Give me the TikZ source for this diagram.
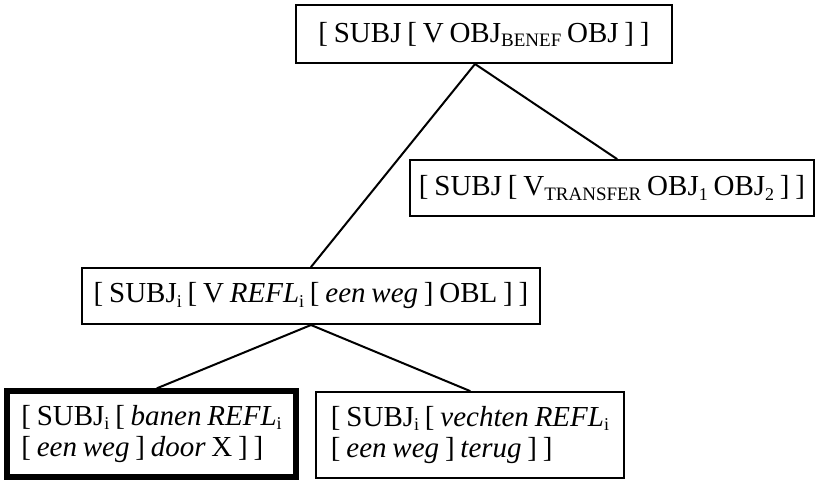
\documentclass[tikz,border=0pt]{standalone}
\usepackage{fontspec}
\setmainfont{Liberation Serif}
\newcommand\lo[1]{\raisebox{-0.14em}{\fontsize{18}{18}\selectfont #1}}
\newcommand\locap[1]{\raisebox{-0.14em}{\fontsize{19}{19}\selectfont #1}}
\newcommand\tightsp{\spaceskip=5.8pt plus 1pt minus 1pt\relax}
\newcommand\boxfont{\fontsize{29}{31}\selectfont\tightsp}
\tikzset{
  box/.style={draw, line width=2pt, inner sep=0pt, align=center, font=\boxfont},
  thickbox/.style={box, line width=5.5pt, align=left},
  lbox/.style={box, align=left},
  link/.style={line width=2pt, line cap=round},
}
\begin{document}
\begin{tikzpicture}[x=1pt,y=-1pt]
\useasboundingbox (0,0) rectangle (821,482);
\node[box, minimum width=376, minimum height=58] (top) at (484,34)
  {[ SUBJ [ V OBJ\locap{BENEF} OBJ ] ]};
\node[box, minimum width=404, minimum height=56] (right) at (612,188)
  {[ SUBJ [ V\locap{TRANSFER} OBJ\lo{1} OBJ\lo{2} ] ]};
\node[box, minimum width=458, minimum height=56] (mid) at (311,296)
  {[ SUBJ\lo{i} [ V \textit{REFL}\lo{i} [ \textit{een weg} ] OBL ] ]};
\node[thickbox, minimum width=289, minimum height=86] (bl) at (151.5,434)
  {[ SUBJ\lo{i} [ \textit{banen REFL}\lo{i}\\ {[} \textit{een weg} ] \textit{door} X ] ]};
\node[lbox, minimum width=308, minimum height=86] (br) at (470,435)
  {[ SUBJ\lo{i} [ \textit{vechten REFL}\lo{i}\\ {[} \textit{een weg} ] \textit{terug} ] ]};
\draw[link] ([xshift=-9pt]top.south) -- (mid.north);
\draw[link] ([xshift=-9pt]top.south) -- ([xshift=5pt]right.north);
\draw[link] (mid.south) -- ([xshift=5.5pt]bl.north);
\draw[link] (mid.south) -- (br.north);
\end{tikzpicture}
\end{document}
